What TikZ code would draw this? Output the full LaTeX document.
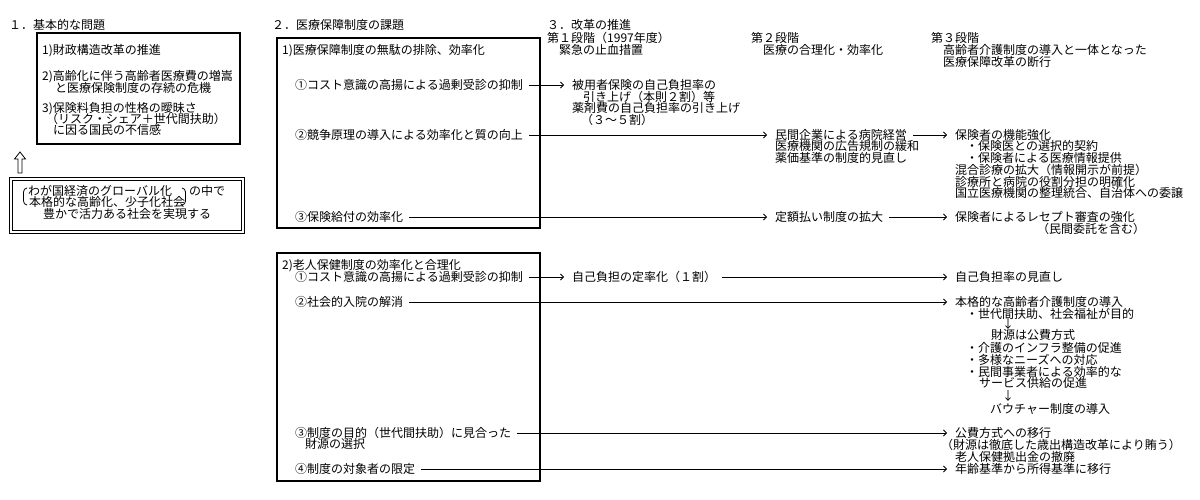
\documentclass[tikz,border=0pt]{standalone}
\usepackage{fontspec}
\setmainfont{Noto Sans CJK JP}
\usetikzlibrary{arrows.meta}

\tikzset{
  txt/.style={anchor=west, inner sep=0pt, text height=9.5pt, text depth=1pt,
    font=\fontsize{12pt}{12pt}\selectfont},
  frame/.style={line width=2pt},
  link/.style={->, line width=0.8pt, shorten <=6pt, shorten >=8pt},
}

\begin{document}
\begin{tikzpicture}[x=1pt, y=-1pt, >={Straight Barb[length=3pt,width=6pt]}]
\useasboundingbox (0,0) rectangle (1200,500);

% headings
\foreach \x/\y/\t [count=\i] in {9/25/１．基本的な問題, 272/25/２．医療保障制度の課題,
    547/25/３．改革の推進, 547/38/第１段階（1997年度）, 559/50/緊急の止血措置,
    751/38/第２段階, 763/50/医療の合理化・効率化, 931/38/第３段階,
    943/50/高齢者介護制度の導入と一体となった, 943/62/医療保障改革の断行}
  \node [txt] (head-\i) at (\x,\y) {\t};

% basic problems
\draw [frame] (37,33) rectangle (240,144);
\foreach \x/\y/\t [count=\i] in {42/50/1)財政構造改革の推進, 42/76/2)高齢化に伴う高齢者医療費の増嵩,
    55/88/と医療保険制度の存続の危機, 42/108/3)保険料負担の性格の曖昧さ,
    46/119/（リスク・シェア＋世代間扶助）, 53/130/に因る国民の不信感}
  \node [txt] (basic-\i) at (\x,\y) {\t};

\draw [line width=0.8pt] (20,152) -- (25.5,159) -- (22,159) -- (22,173)
  -- (18,173) -- (18,159) -- (14.5,159) -- cycle;

\draw [line width=0.8pt, double, double distance=2.4pt] (11,179) rectangle (243,232);
\node [txt] (context-a) at (28,191) {わが国経済のグローバル化};
\node [txt] (context-b) at (29,202) {本格的な高齢化、少子化社会};
\node [txt] (context-c) at (189,191) {の中で};
\node [txt] (context-d) at (43,214) {豊かで活力ある社会を実現する};
\draw [line width=0.8pt] (27,188) to[out=180,in=90] (23.5,192) -- (23.5,201)
  to[out=-90,in=180] (27,205);
\draw [line width=0.8pt] (182,188) to[out=0,in=90] (185.5,192) -- (185.5,201)
  to[out=-90,in=0] (182,205);

% issues
\draw [frame] (277,38) rectangle (540,228);
\node [txt] (aim-1) at (282,50) {1)医療保障制度の無駄の排除、効率化};
\node [txt] (cost-1) at (295,85) {①コスト意識の高揚による過剰受診の抑制};
\node [txt] (comp-1) at (295,135) {②競争原理の導入による効率化と質の向上};
\node [txt] (benefit-1) at (295,217) {③保険給付の効率化};

\draw [frame] (277,253) rectangle (540,481);
\node [txt] (aim-2) at (282,265) {2)老人保健制度の効率化と合理化};
\node [txt] (cost-2) at (295,277) {①コスト意識の高揚による過剰受診の抑制};
\node [txt] (hosp-2) at (295,302) {②社会的入院の解消};
\node [txt] (fund-2) at (295,433) {③制度の目的（世代間扶助）に見合った};
\node [txt] (fund-2b) at (305,444) {財源の選択};
\node [txt] (target-2) at (295,469) {④制度の対象者の限定};

% stages
\node [txt] (stage1-cost) at (572,85) {被用者保険の自己負担率の};
\node [txt] (stage1-rate) at (572,277) {自己負担の定率化（１割）};
\node [txt] (stage2-comp) at (775,135) {民間企業による病院経営};
\node [txt] (stage2-fee) at (775,217) {定額払い制度の拡大};
\node [txt] (stage3-comp) at (955,135) {保険者の機能強化};
\node [txt] (stage3-review) at (955,217) {保険者によるレセプト審査の強化};
\node [txt] (stage3-rate) at (955,277) {自己負担率の見直し};
\node [txt] (stage3-care) at (955,302) {本格的な高齢者介護制度の導入};
\node [txt] (stage3-public) at (955,433) {公費方式への移行};
\node [txt] (stage3-income) at (955,469) {年齢基準から所得基準に移行};

\foreach \x/\y/\t [count=\i] in {583/97/引き上げ（本則２割）等, 572/108/薬剤費の自己負担率の引き上げ,
    581/120/（３～５割）, 775/146/医療機関の広告規制の緩和, 775/158/薬価基準の制度的見直し,
    966/146/・保険医との選択的契約, 966/158/・保険者による医療情報提供,
    955/170/混合診療の拡大（情報開示が前提）, 955/182/診療所と病院の役割分担の明確化,
    955/193/国立医療機関の整理統合、自治体への委譲, 1037/229/（民間委託を含む）,
    966/314/・世代間扶助、社会福祉が目的, 991/335/財源は公費方式,
    966/348/・介護のインフラ整備の促進, 966/360/・多様なニーズへの対応,
    966/372/・民間事業者による効率的な, 979/383/サービス供給の促進,
    990/409/バウチャー制度の導入, 941/445/（財源は徹底した歳出構造改革により賄う）,
    955/457/老人保健拠出金の撤廃}
  \node [txt] (note-\i) at (\x,\y) {\t};

\node [txt, anchor=center] (down-1) at (1008,324) {↓};
\node [txt, anchor=center] (down-2) at (1008,396) {↓};

\foreach \a/\b in {cost-1/stage1-cost, comp-1/stage2-comp, stage2-comp/stage3-comp,
    benefit-1/stage2-fee, stage2-fee/stage3-review, cost-2/stage1-rate,
    stage1-rate/stage3-rate, hosp-2/stage3-care, fund-2/stage3-public,
    target-2/stage3-income}
  \draw [link] (\a) -- (\b);

\end{tikzpicture}
\end{document}
